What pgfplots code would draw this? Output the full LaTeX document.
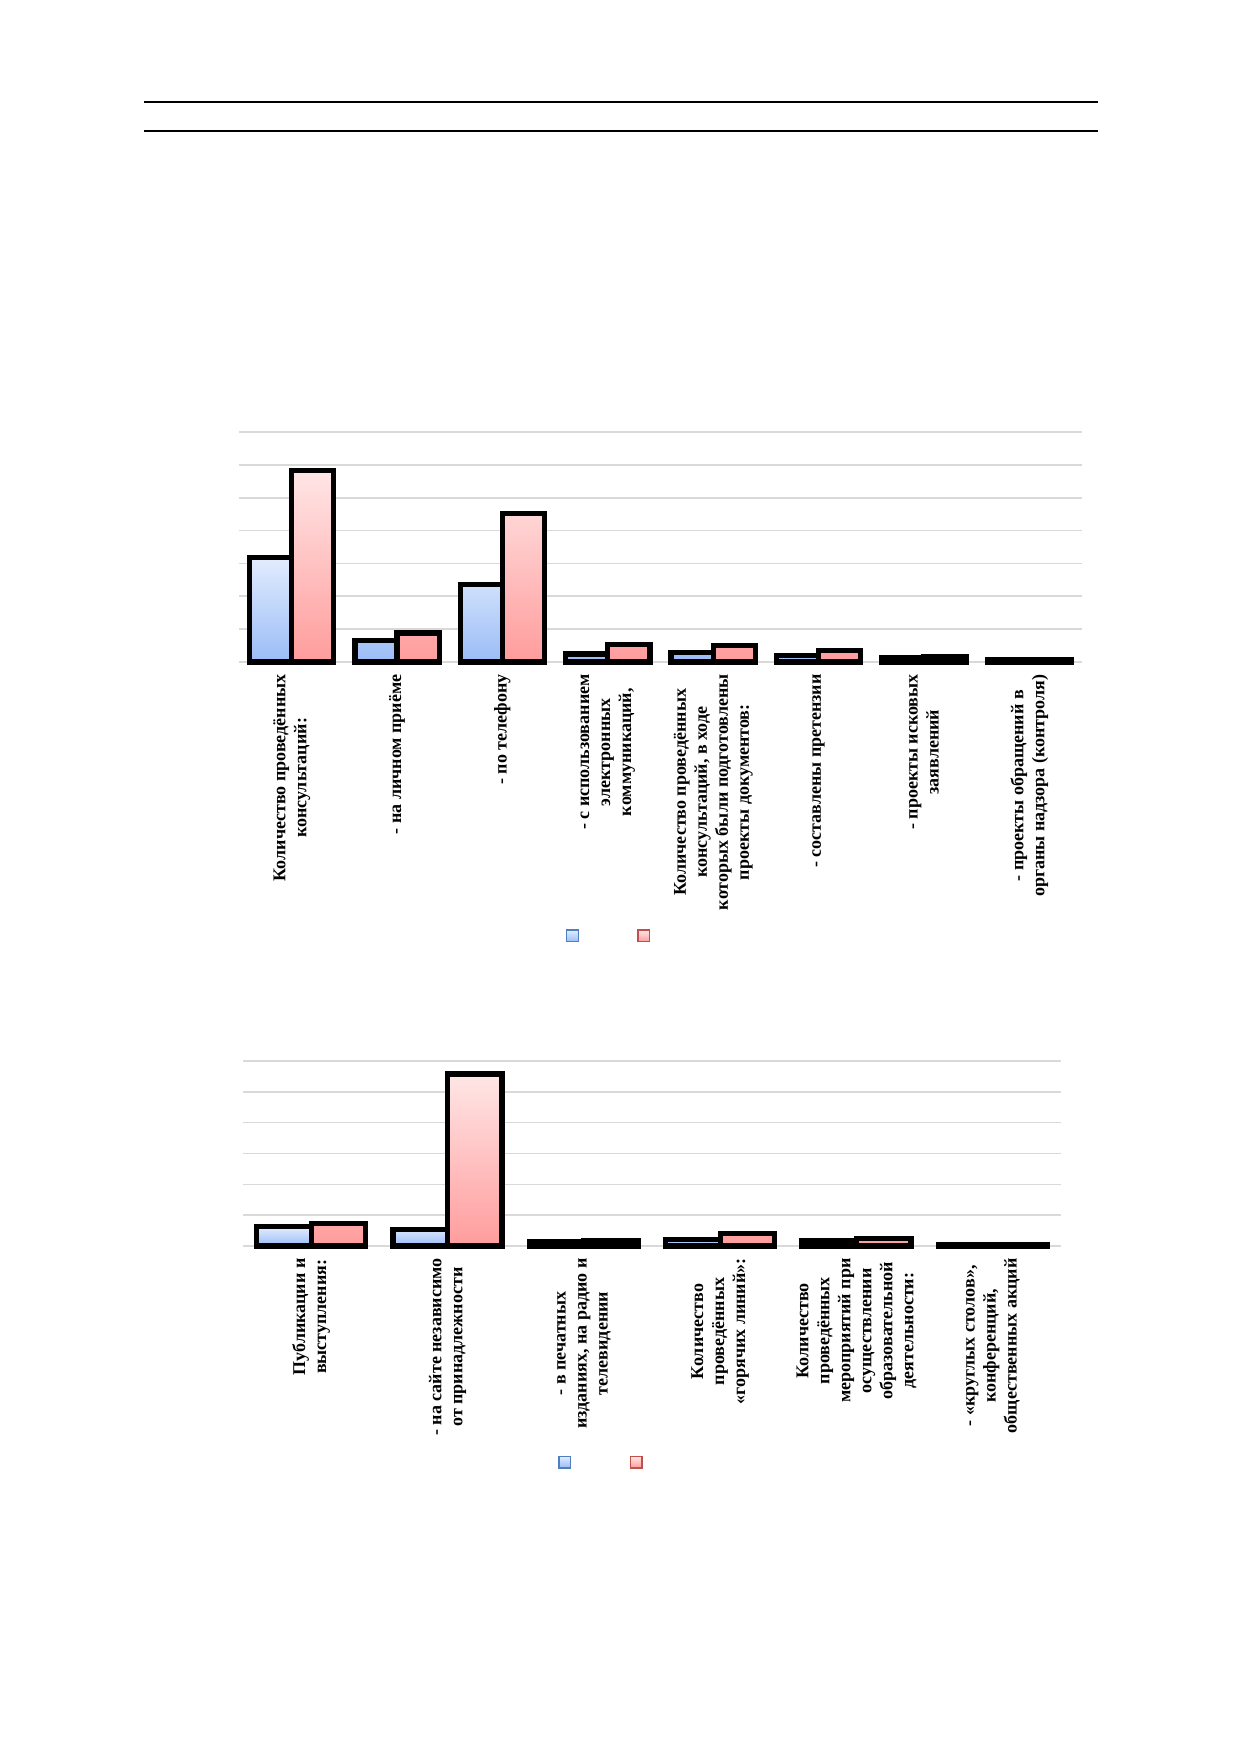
\documentclass[border=0pt]{standalone}
\usepackage{fontspec}
\setmainfont{Liberation Serif}
\usepackage{pgfplots}
\pgfplotsset{compat=1.18}
\definecolor{bluetop}{HTML}{E2ECFE}
\definecolor{bluebot}{HTML}{9ABCF6}
\definecolor{redtop}{HTML}{FFE6E6}
\definecolor{redbot}{HTML}{FF9C9C}
\definecolor{blueedge}{HTML}{4F7FC0}
\definecolor{rededge}{HTML}{C0504D}
\definecolor{gridc}{HTML}{D9D9D9}
\pgfplotsset{
  mychart/.style={
    scale only axis,
    anchor=south west,
    axis line style={draw=none},
    tick style={draw=none},
    major tick length=0pt,
    ymin=0,
    ymajorgrids,
    grid style={gridc, line width=0.8pt},
    yticklabel=\empty,
    xtick=data,
    clip=false,
    xticklabel shift=6pt,
    xticklabel style={rotate=90, anchor=east, align=center, inner sep=0pt,
      font=\bfseries\fontsize{9}{10.5}\selectfont},
    legend columns=2,
    legend style={draw=none, fill=none, inner sep=0pt, outer sep=0pt,
      column sep=14.1pt, nodes={inner sep=0pt, text depth=0pt}},
  },
  bluebar/.style={ybar, bar width=0.4, bar shift=0pt, draw=black, line width=2.6pt,
    top color=bluetop, bottom color=bluebot,
    legend image code/.code={\draw[blueedge, line width=0.7pt, top color=bluetop, bottom color=bluebot] (0pt,-2.9pt) rectangle (5.8pt,2.9pt);}},
  redbar/.style={ybar, bar width=0.4, bar shift=0pt, draw=black, line width=2.6pt,
    top color=redtop, bottom color=redbot,
    legend image code/.code={\draw[rededge, line width=0.7pt, top color=redtop, bottom color=redbot] (0pt,-2.9pt) rectangle (5.8pt,2.9pt);}},
}
\begin{document}
\begin{tikzpicture}
\path[use as bounding box, fill=white] (0,0) rectangle (618.5pt,877pt);
\draw[line width=1.2pt] (72pt,826pt) -- (549pt,826pt);
\draw[line width=1.2pt] (72pt,811.5pt) -- (549pt,811.5pt);

% Chart 1
\begin{axis}[mychart,
  at={(119.5pt,546pt)},
  width=421.5pt, height=115pt,
  xmin=-0.5, xmax=7.5, ymax=7, ytick={0,1,...,7},
  xtick={0,1,...,7},
  xticklabels={
    {Количество проведённых\\консультаций:},
    {- на личном приёме},
    {- по телефону},
    {- с использованием\\электронных\\коммуникаций,},
    {Количество проведённых\\консультаций, в ходе\\которых были подготовлены\\проекты документов:},
    {- составлены претензии},
    {- проекты исковых\\заявлений},
    {- проекты обращений в\\органы надзора (контроля)}},
  legend style={at={(0.388,-1.1913)}, anchor=west},
]
\addplot[bluebar] coordinates {(-0.2,3.18) (0.8,0.65) (1.8,2.37) (2.8,0.24) (3.8,0.30) (4.8,0.19) (5.8,0.12) (6.8,0.07)};
\addlegendentry{\mbox{}}
\addplot[redbar] coordinates {(0.2,5.84) (1.2,0.88) (2.2,4.51) (3.2,0.54) (4.2,0.50) (5.2,0.34) (6.2,0.15) (7.2,0.08)};
\addlegendentry{\mbox{}}
\end{axis}

% Chart 2
\begin{axis}[mychart,
  at={(121.5pt,254pt)},
  width=409pt, height=92.5pt,
  xmin=-0.5, xmax=5.5, ymax=6, ytick={0,1,...,6},
  xtick={0,1,...,5},
  xticklabels={
    {Публикации и\\выступления:},
    {- на сайте независимо\\от принадлежности},
    {- в печатных\\изданиях, на радио и\\телевидении},
    {Количество\\проведённых\\«горячих линий»:},
    {Количество\\проведённых\\мероприятий при\\осуществлении\\образовательной\\деятельности:},
    {- «круглых столов»,\\конференций,\\общественных акций}},
  legend style={at={(0.3855,-1.168)}, anchor=west},
]
\addplot[bluebar] coordinates {(-0.2,0.62) (0.8,0.54) (1.8,0.13) (2.8,0.22) (3.8,0.16) (4.8,0.05)};
\addlegendentry{\mbox{}}
\addplot[redbar] coordinates {(0.2,0.72) (1.2,5.58) (2.2,0.16) (3.2,0.40) (4.2,0.25) (5.2,0.05)};
\addlegendentry{\mbox{}}
\end{axis}
\end{tikzpicture}
\end{document}
